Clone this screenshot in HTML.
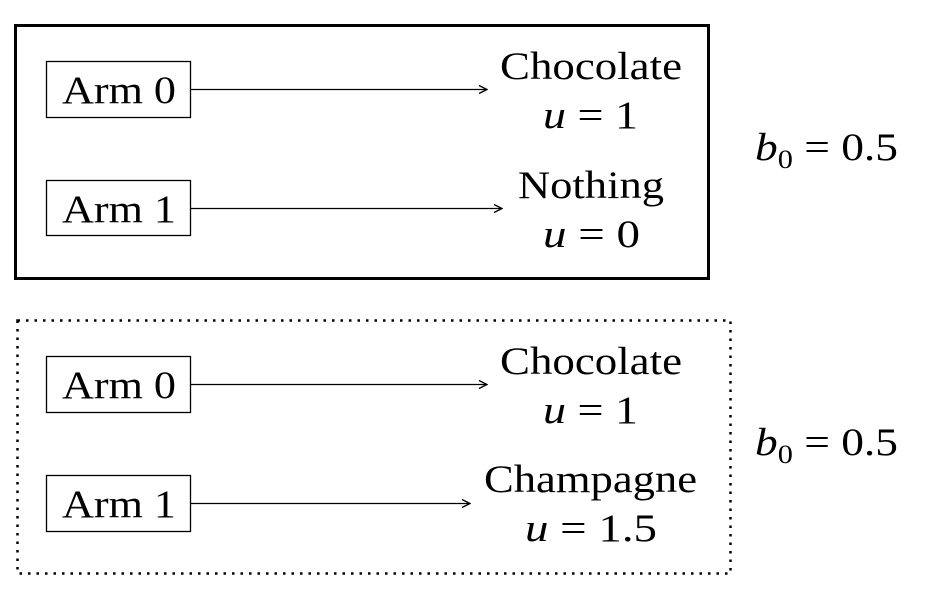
<!DOCTYPE html>
<html><head><meta charset="utf-8"><style>
html,body{margin:0;padding:0;background:#fff;}
svg{display:block;}
text{font-family:"Liberation Serif",serif;font-size:39px;fill:#000;}
.it{font-style:italic;}
</style></head><body>
<svg width="925" height="602" viewBox="0 0 925 602">
<defs><marker id="ah" markerWidth="10" markerHeight="10" refX="9" refY="5" orient="auto" markerUnits="userSpaceOnUse"><path d="M1,1 L9,5 L1,9" fill="none" stroke="#000" stroke-width="1.3"/></marker></defs>

<g>
<rect x="15.5" y="25.5" width="693" height="253" fill="none" stroke="#000" stroke-width="3"/>
<g><rect x="46.5" y="61.5" width="144" height="56" fill="none" stroke="#000" stroke-width="1.3"/><text x="62" y="103" textLength="114" lengthAdjust="spacingAndGlyphs">Arm 0</text></g>
<line x1="190" y1="89.5" x2="487" y2="89.5" stroke="#000" stroke-width="1.3" marker-end="url(#ah)"/>
<text x="500" y="79" textLength="182" lengthAdjust="spacingAndGlyphs">Chocolate</text>
<text x="543" y="128" textLength="95" lengthAdjust="spacingAndGlyphs"><tspan class="it">u</tspan> = 1</text>
<g><rect x="46.5" y="180.5" width="144" height="55" fill="none" stroke="#000" stroke-width="1.3"/><text x="62" y="222" textLength="114" lengthAdjust="spacingAndGlyphs">Arm 1</text></g>
<line x1="190" y1="208.5" x2="502" y2="208.5" stroke="#000" stroke-width="1.3" marker-end="url(#ah)"/>
<text x="518" y="198" textLength="146" lengthAdjust="spacingAndGlyphs">Nothing</text>
<text x="543" y="247" textLength="97" lengthAdjust="spacingAndGlyphs"><tspan class="it">u</tspan> = 0</text>
<text x="755" y="160" textLength="143" lengthAdjust="spacingAndGlyphs"><tspan class="it">b</tspan><tspan font-size="26" dy="8">0</tspan><tspan dy="-8"> = 0.5</tspan></text>
</g>

<g>
<rect x="17.5" y="320.5" width="713" height="253" fill="none" stroke="#000" stroke-width="2.5" stroke-dasharray="2.5 6"/>
<g><rect x="46.5" y="356.5" width="144" height="56" fill="none" stroke="#000" stroke-width="1.3"/><text x="62" y="398" textLength="114" lengthAdjust="spacingAndGlyphs">Arm 0</text></g>
<line x1="190" y1="384.5" x2="487" y2="384.5" stroke="#000" stroke-width="1.3" marker-end="url(#ah)"/>
<text x="500" y="374" textLength="182" lengthAdjust="spacingAndGlyphs">Chocolate</text>
<text x="543" y="423" textLength="95" lengthAdjust="spacingAndGlyphs"><tspan class="it">u</tspan> = 1</text>
<g><rect x="46.5" y="475.5" width="144" height="56" fill="none" stroke="#000" stroke-width="1.3"/><text x="62" y="517" textLength="114" lengthAdjust="spacingAndGlyphs">Arm 1</text></g>
<line x1="190" y1="503.5" x2="470" y2="503.5" stroke="#000" stroke-width="1.3" marker-end="url(#ah)"/>
<text x="484" y="492" textLength="213" lengthAdjust="spacingAndGlyphs">Champagne</text>
<text x="525" y="541" textLength="132" lengthAdjust="spacingAndGlyphs"><tspan class="it">u</tspan> = 1.5</text>
<text x="755" y="455" textLength="143" lengthAdjust="spacingAndGlyphs"><tspan class="it">b</tspan><tspan font-size="26" dy="8">0</tspan><tspan dy="-8"> = 0.5</tspan></text>
</g>
</svg>
</body></html>
